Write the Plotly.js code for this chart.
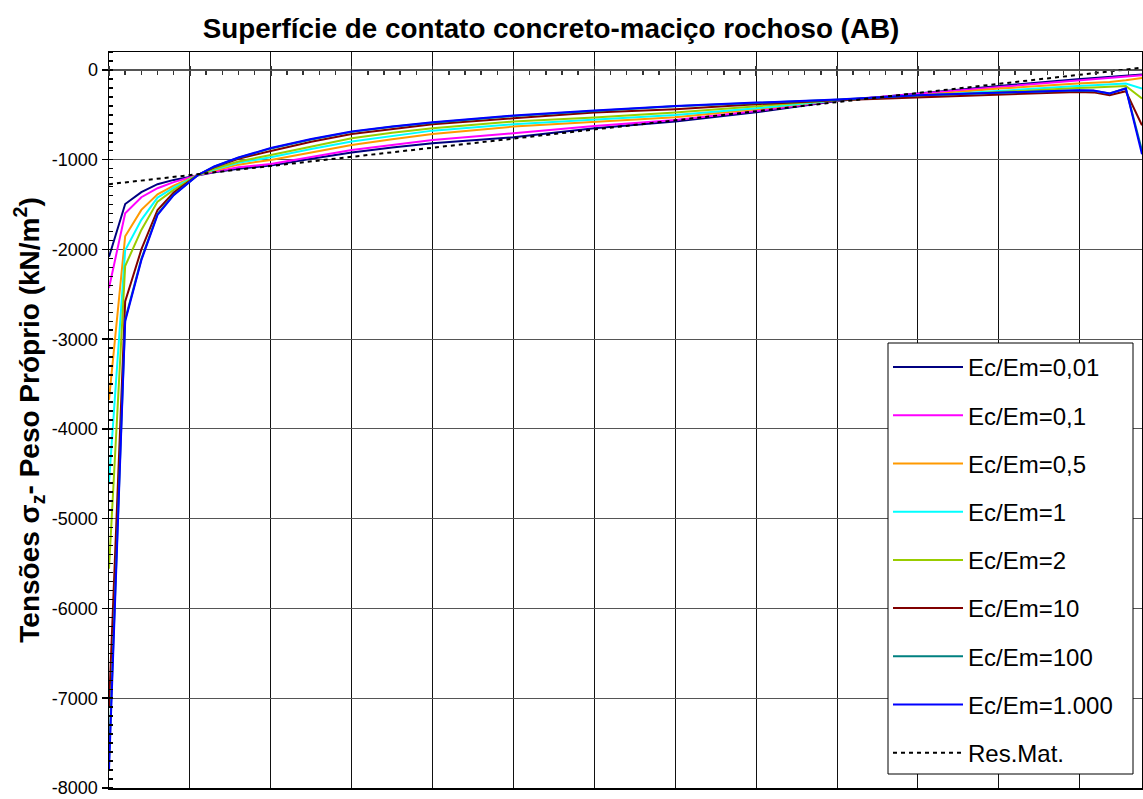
<!DOCTYPE html>
<html>
<head>
<meta charset="utf-8">
<script src="https://cdn.plot.ly/plotly-3.0.1.min.js"></script>
<style>html,body{margin:0;padding:0;background:#fff;}#chart{width:1143px;height:799px;}</style>
</head>
<body>
<div id="chart"></div>
<script>
// ---- data ----
const xPos = [0, 0.2, 0.4, 0.6, 0.8, 1.1, 1.3, 1.6, 2, 2.5, 3, 3.5, 4, 5, 6, 7, 8, 9, 10, 11, 11.97, 12.17, 12.37, 12.57, 12.77];

const seriesNames = ["Ec/Em=0,01", "Ec/Em=0,1", "Ec/Em=0,5", "Ec/Em=1", "Ec/Em=2", "Ec/Em=10", "Ec/Em=100", "Ec/Em=1.000"];
const seriesColors = ["#000080", "#FF00FF", "#FF9900", "#00FFFF", "#99CC00", "#800000", "#008080", "#0000FF"];

const ratio001 = [-2082, -1494, -1362, -1273, -1225, -1170, -1140, -1100, -1066, -990, -920, -865, -817, -750, -650, -575, -471, -345, -260, -178, -104, -92, -78, -67, -51];
const ratio01  = [-2430, -1596, -1418, -1318, -1250, -1170, -1135, -1085, -1047, -965, -891, -835, -780, -705, -624, -557, -457, -340, -265, -185, -110, -95, -83, -70, -58];
const ratio05  = [-3675, -1853, -1559, -1385, -1288, -1170, -1120, -1055, -1002, -915, -835, -772, -713, -631, -583, -527, -438, -337, -285, -208, -152, -145, -134, -115, -89];
const ratio1   = [-4596, -2008, -1670, -1422, -1310, -1170, -1110, -1035, -972, -880, -798, -735, -676, -605, -557, -501, -427, -337, -290, -230, -178, -170, -160, -152, -208];
const ratio2   = [-5557, -2185, -1782, -1467, -1336, -1170, -1100, -1020, -947, -850, -761, -700, -650, -575, -531, -475, -408, -335, -295, -245, -200, -195, -189, -178, -319];
const ratio10  = [-7100, -2580, -2000, -1560, -1366, -1170, -1085, -990, -902, -800, -713, -655, -605, -538, -475, -438, -382, -338, -304, -274, -245, -250, -282, -237, -616];
const ratio100 = [-7700, -2780, -2105, -1605, -1390, -1170, -1078, -979, -874, -774, -690, -634, -587, -512, -457, -405, -367, -332, -283, -257, -228, -233, -262, -205, -900];
const ratio1000= [-7800, -2800, -2120, -1615, -1395, -1170, -1075, -975, -870, -770, -686, -630, -583, -508, -453, -401, -364, -330, -282, -256, -226, -230, -263, -208, -940];

const resMatX = [0, 12.77];
const resMatY = [-1273, 25];

const yTickVals = [0, -1000, -2000, -3000, -4000, -5000, -6000, -7000, -8000];
const yTickText = ["0", "-1000", "-2000", "-3000", "-4000", "-5000", "-6000", "-7000", "-8000"];

// ---- chart ----
const seriesValues = [ratio001, ratio01, ratio05, ratio1, ratio2, ratio10, ratio100, ratio1000];
const FONT = "Liberation Sans, Arial, Helvetica, sans-serif";
const traces = seriesValues.map((vals, i) => ({
  type: "scatter", mode: "lines", x: xPos, y: vals, name: seriesNames[i],
  legendgroup: "g" + i,
  line: {color: seriesColors[i], width: 2}
}));
traces.push({
  type: "scatter", mode: "lines", x: resMatX, y: resMatY, name: "Res.Mat.",
  legendgroup: "g8",
  line: {color: "#000000", width: 2, dash: "4px,4px"}
});
// helper traces so the axis drawn along y = 0 exists
traces.push({type: "scatter", x: [null], y: [null], xaxis: "x2", showlegend: false, hoverinfo: "skip"});
traces.push({type: "scatter", x: [null], y: [null], xaxis: "x3", showlegend: false, hoverinfo: "skip"});

const xr = [0, 12.77];
const yr = [-8000, 200];
const zeroPos = (0 - yr[0]) / (yr[1] - yr[0]);

const layout = {
  width: 1143, height: 799,
  margin: {l: 109, r: 1, t: 52, b: 11},
  paper_bgcolor: "#ffffff", plot_bgcolor: "#ffffff",
  font: {family: FONT, color: "#000"},
  title: {
    text: "Superfície de contato concreto-maciço rochoso (AB)",
    font: {family: FONT, size: 27.8, weight: "bold", color: "#000"},
    x: 551 / 1143, xanchor: "center", xref: "container",
    y: 1 - 28 / 799, yanchor: "middle", yref: "container"
  },
  showlegend: true,
  legend: {
    x: (888 - 109) / 1033, xanchor: "left",
    y: (788 - 345) / 736, yanchor: "top",
    bgcolor: "rgba(0,0,0,0)", borderwidth: 0,
    font: {family: FONT, size: 24, color: "#000"},
    traceorder: "grouped", tracegroupgap: 14,
    itemwidth: 70
  },
  shapes: [{
    type: "rect", xref: "paper", yref: "paper", layer: "above",
    x0: (888 - 109) / 1033, x1: (1133 - 109) / 1033,
    y0: (788 - 774) / 736, y1: (788 - 343) / 736,
    fillcolor: "#ffffff", line: {color: "#000000", width: 1}
  }],
  xaxis: {
    range: xr, dtick: 1, tick0: 0,
    showgrid: true, gridcolor: "#111111", gridwidth: 1,
    zeroline: false, showticklabels: false, ticks: "",
    showline: true, linecolor: "#000", linewidth: 1.5, mirror: true
  },
  xaxis2: {
    overlaying: "x", anchor: "free", position: zeroPos, side: "bottom",
    range: xr, dtick: 1, tick0: 0,
    showgrid: false, zeroline: false, showticklabels: false,
    showline: true, linecolor: "#555", linewidth: 1.5,
    ticks: "outside", ticklen: 5, tickcolor: "#333", tickwidth: 1.5,
    minor: {dtick: 0.2, tick0: 0, ticks: "outside", ticklen: 4, tickcolor: "#333", tickwidth: 1.5, showgrid: false}
  },
  xaxis3: {
    overlaying: "x", anchor: "free", position: zeroPos, side: "top",
    range: xr, dtick: 1, tick0: 0,
    showgrid: false, zeroline: false, showticklabels: false, showline: false,
    ticks: "outside", ticklen: 4, tickcolor: "#333", tickwidth: 1.5
  },
  yaxis: {
    range: yr, tickmode: "array", tickvals: yTickVals, ticktext: yTickText,
    showgrid: true, gridcolor: "#555555", gridwidth: 1,
    zeroline: false,
    ticks: "outside", ticklen: 6, tickcolor: "#000", tickwidth: 1.5,
    minor: {dtick: 100, tick0: 0, ticks: "inside", ticklen: 4, tickcolor: "#000", tickwidth: 1.5, showgrid: false},
    tickfont: {family: FONT, size: 18, color: "#000"},
    showline: true, linecolor: "#000", linewidth: 1.5, mirror: true,
    title: {
      text: "Tensões σ<sub>z</sub>- Peso Próprio (kN/m<sup>2</sup>)",
      font: {family: FONT, size: 28, weight: "bold", color: "#000"},
      standoff: 4
    }
  }
};

Plotly.newPlot("chart", traces, layout, {displayModeBar: false, staticPlot: true});
</script>
</body>
</html>
